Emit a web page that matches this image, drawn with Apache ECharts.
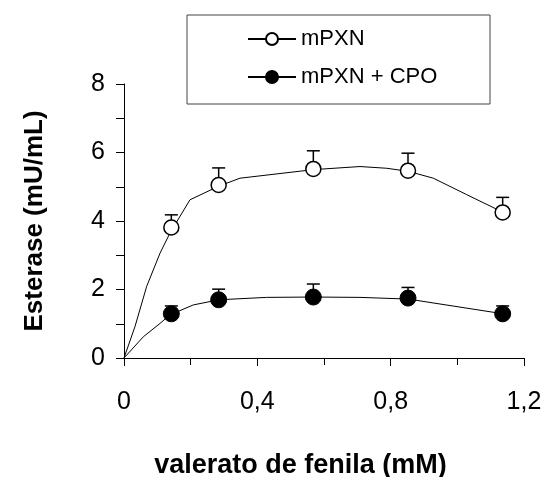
<!DOCTYPE html>
<html>
<head>
<meta charset="utf-8">
<script src="https://cdn.jsdelivr.net/npm/echarts@6/dist/echarts.min.js"></script>
<style>
  html, body { margin: 0; padding: 0; background: #fff; }
  #chart { width: 545px; height: 477px; }
</style>
</head>
<body>
<div id="chart"></div>
<script>
// concentrações (mM) dos pontos medidos
var doses = [0.142, 0.284, 0.568, 0.852, 1.136];
// médias e erros (barra só para cima)
var mpxnMedia = [3.81, 5.05, 5.52, 5.47, 4.25];
var mpxnErro = [0.37, 0.50, 0.53, 0.51, 0.44];
var cpoMedia = [1.29, 1.70, 1.78, 1.75, 1.29];
var cpoErro = [0.23, 0.31, 0.38, 0.31, 0.23];
// curvas ajustadas
var mpxnCurva = [[0, 0], [0.033, 0.92], [0.068, 2.09], [0.108, 3.06], [0.138, 3.65],
  [0.198, 4.62], [0.285, 5.02], [0.348, 5.25], [0.568, 5.50], [0.708, 5.59],
  [0.788, 5.54], [0.853, 5.45], [0.928, 5.25], [1.028, 4.77], [1.138, 4.25]];
var cpoCurva = [[0, 0], [0.058, 0.62], [0.108, 1.01], [0.138, 1.26], [0.208, 1.55],
  [0.285, 1.70], [0.428, 1.77], [0.568, 1.78], [0.708, 1.77], [0.853, 1.72], [1.138, 1.29]];
// rótulos dos eixos
var xRotulos = ['0', '0,4', '0,8', '1,2'];
var yRotulos = ['0', '2', '4', '6', '8'];
var nomes = ['mPXN', 'mPXN + CPO'];

var fonte = "'Liberation Sans', Arial, sans-serif";

function pontos(media) {
  return doses.map(function (x, i) { return [x, media[i]]; });
}
function barras(media, erro) {
  return doses.map(function (x, i) { return [x, media[i], media[i] + erro[i]]; });
}

// barra de erro com traço no topo
function desenhaErro(params, api) {
  var p = api.coord([api.value(0), api.value(1)]);
  var q = api.coord([api.value(0), api.value(2)]);
  var estilo = { stroke: '#000', lineWidth: 1.5 };
  return {
    type: 'group',
    children: [
      { type: 'line', shape: { x1: p[0], y1: p[1], x2: q[0], y2: q[1] }, style: estilo },
      { type: 'line', shape: { x1: q[0] - 6.5, y1: q[1], x2: q[0] + 6.5, y2: q[1] }, style: estilo }
    ]
  };
}

var grafico = echarts.init(document.getElementById('chart'));

var option = {
  animation: false,
  backgroundColor: '#fff',
  textStyle: { fontFamily: fonte, color: '#000' },
  grid: { left: 124, right: 21, top: 84, bottom: 119, containLabel: false, outerBoundsMode: 'none' },
  // caixa da legenda
  graphic: [{
    type: 'rect',
    shape: { x: 187, y: 15, width: 303, height: 89 },
    style: { fill: 'none', stroke: '#444', lineWidth: 1 }
  }],
  legend: {
    data: nomes,
    orient: 'vertical',
    left: 247,
    top: 28,
    itemWidth: 48,
    itemHeight: 15,
    itemGap: 16,
    padding: 0,
    selectedMode: false,
    textStyle: { fontFamily: fonte, fontSize: 22, color: '#000' }
  },
  xAxis: {
    type: 'value',
    min: 0,
    max: 1.2,
    interval: 0.4,
    name: 'valerato de fenila (mM)',
    nameLocation: 'middle',
    nameGap: 94,
    nameTextStyle: {
      fontFamily: fonte, fontSize: 27, fontWeight: 'bold', color: '#000',
      padding: [0, 47, 0, 0]
    },
    axisLine: { onZero: false, lineStyle: { color: '#000', width: 1 } },
    axisTick: { length: 8, lineStyle: { color: '#000' } },
    minorTick: { show: true, splitNumber: 2, length: 7, lineStyle: { color: '#000' } },
    splitLine: { show: false },
    axisLabel: {
      margin: 32,
      fontFamily: fonte,
      fontSize: 25,
      color: '#000',
      formatter: function (v, i) { return xRotulos[i]; }
    }
  },
  yAxis: {
    type: 'value',
    min: 0,
    max: 8,
    interval: 2,
    name: 'Esterase (mU/mL)',
    nameLocation: 'middle',
    nameGap: 76,
    nameTextStyle: { fontFamily: fonte, fontSize: 26, fontWeight: 'bold', color: '#000' },
    axisLine: { show: true, lineStyle: { color: '#000', width: 1 } },
    axisTick: { show: true, length: 8, lineStyle: { color: '#000' } },
    minorTick: { show: true, splitNumber: 2, length: 8, lineStyle: { color: '#000' } },
    splitLine: { show: false },
    axisLabel: {
      margin: 19,
      fontFamily: fonte,
      fontSize: 25,
      color: '#000',
      formatter: function (v, i) { return yRotulos[i]; }
    }
  },
  series: [
    {
      name: nomes[0],
      type: 'line',
      data: mpxnCurva,
      showSymbol: false,
      symbol: 'circle',
      lineStyle: { color: '#000', width: 1 },
      itemStyle: { color: '#fff', borderColor: '#000', borderWidth: 1 },
      z: 1
    },
    {
      name: nomes[1],
      type: 'line',
      data: cpoCurva,
      showSymbol: false,
      symbol: 'circle',
      lineStyle: { color: '#000', width: 1 },
      itemStyle: { color: '#000', borderColor: '#000', borderWidth: 1 },
      z: 1
    },
    {
      name: 'erro mPXN',
      type: 'custom',
      renderItem: desenhaErro,
      data: barras(mpxnMedia, mpxnErro),
      z: 2
    },
    {
      name: 'erro CPO',
      type: 'custom',
      renderItem: desenhaErro,
      data: barras(cpoMedia, cpoErro),
      z: 2
    },
    {
      name: 'pontos mPXN',
      type: 'scatter',
      data: pontos(mpxnMedia),
      symbol: 'circle',
      symbolSize: 15,
      itemStyle: { color: '#fff', borderColor: '#000', borderWidth: 1.5, opacity: 1 },
      z: 3
    },
    {
      name: 'pontos CPO',
      type: 'scatter',
      data: pontos(cpoMedia),
      symbol: 'circle',
      symbolSize: 16,
      itemStyle: { color: '#000', borderColor: '#000', borderWidth: 1, opacity: 1 },
      z: 3
    }
  ]
};

grafico.setOption(option);
</script>
</body>
</html>
